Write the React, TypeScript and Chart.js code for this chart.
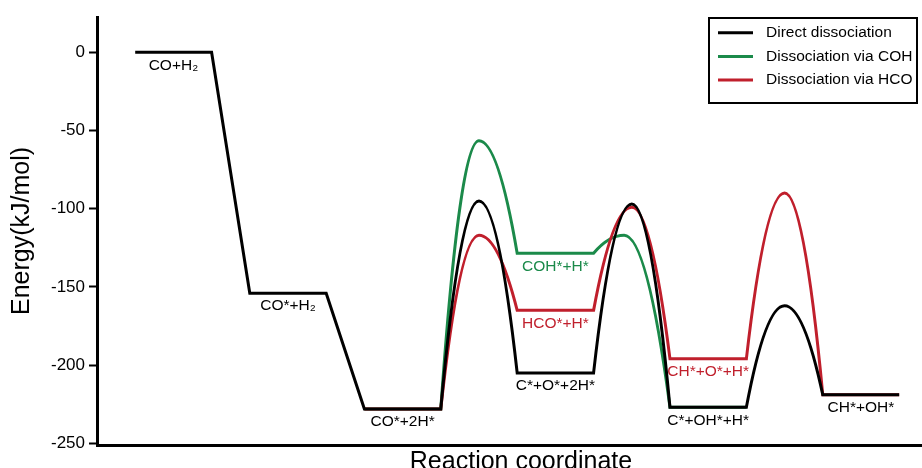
import React, { useEffect, useRef } from 'react';
import { Chart, registerables } from 'chart.js';

Chart.register(...registerables);

const FONT = '"Liberation Sans", Arial, Helvetica, sans-serif';

// Reaction-coordinate span of each intermediate slot
const slotStart = [1, 4, 7, 11, 15, 19];
const slotEnd = [3, 6, 9, 13, 17, 21];

const yTicks = [0, -50, -100, -150, -200, -250];

// Direct dissociation
const directSlots = [0, 1, 2, 3, 4, 5];
const directEnergy = [0, -154, -228, -205, -227, -219];
const directBarrier: (number | null)[] = [null, null, -95, -97, -162];
const directBarrierAt: (number | null)[] = [null, null, 10, 14, 18];
const directLabels: (string | null)[] = ['CO+H₂', 'CO*+H₂', 'CO*+2H*', 'C*+O*+2H*', 'C*+OH*+H*', 'CH*+OH*'];

// Dissociation via COH
const cohSlots = [2, 3, 4];
const cohEnergy = [-228, -128.5, -227];
const cohBarrier: (number | null)[] = [-56.5, -117];
const cohBarrierAt: (number | null)[] = [10, 13.8];
const cohLabels: (string | null)[] = [null, 'COH*+H*', null];

// Dissociation via HCO
const hcoSlots = [2, 3, 4, 5];
const hcoEnergy = [-228, -165, -196, -219];
const hcoBarrier: (number | null)[] = [-117, -99, -90];
const hcoBarrierAt: (number | null)[] = [10, 14, 18];
const hcoLabels: (string | null)[] = [null, 'HCO*+H*', 'CH*+O*+H*', null];

const seriesNames = ['Direct dissociation', 'Dissociation via COH', 'Dissociation via HCO'];
const seriesColors = ['#000000', '#1b8a4a', '#c01f2c'];

type Def = {
  name: string; color: string; slots: number[]; energy: number[];
  barrier: (number | null)[]; barrierAt: (number | null)[]; labels: (string | null)[]; order: number;
};

const defs: Def[] = [
  { name: seriesNames[0], color: seriesColors[0], slots: directSlots, energy: directEnergy, barrier: directBarrier, barrierAt: directBarrierAt, labels: directLabels, order: 0 },
  { name: seriesNames[1], color: seriesColors[1], slots: cohSlots, energy: cohEnergy, barrier: cohBarrier, barrierAt: cohBarrierAt, labels: cohLabels, order: 2 },
  { name: seriesNames[2], color: seriesColors[2], slots: hcoSlots, energy: hcoEnergy, barrier: hcoBarrier, barrierAt: hcoBarrierAt, labels: hcoLabels, order: 1 },
];

function buildPath(d: Def) {
  const pts: { x: number; y: number; peak?: boolean }[] = [];
  d.slots.forEach((s, i) => {
    const e = d.energy[i];
    pts.push({ x: slotStart[s], y: e }, { x: slotEnd[s], y: e });
    if (i < d.slots.length - 1) {
      const br = d.barrier[i];
      const at = d.barrierAt[i];
      if (br !== null && at !== null) pts.push({ x: at, y: br, peak: true });
    }
  });
  return pts;
}

// Straight levels/steps; each barrier drawn as two parabolic halves meeting at the saddle point
const barrierShape = {
  id: 'barrierShape',
  beforeDatasetDraw(chart: any, args: any) {
    const meta = args.meta;
    const line = meta.dataset;
    if (!line) return;
    line.updateControlPoints(chart.chartArea, meta.iAxis || 'x');
    const pts = meta.data;
    const raw = chart.data.datasets[args.index].data;
    pts.forEach((p: any) => {
      p.cp1x = p.x; p.cp1y = p.y; p.cp2x = p.x; p.cp2y = p.y;
    });
    raw.forEach((r: any, i: number) => {
      if (!r.peak) return;
      const a = pts[i - 1];
      const p = pts[i];
      const b = pts[i + 1];
      a.cp2x = a.x + (p.x - a.x) / 3; a.cp2y = a.y + (2 * (p.y - a.y)) / 3;
      p.cp1x = p.x - (p.x - a.x) / 3; p.cp1y = p.y;
      p.cp2x = p.x + (b.x - p.x) / 3; p.cp2y = p.y;
      b.cp1x = b.x - (b.x - p.x) / 3; b.cp1y = b.y + (2 * (p.y - b.y)) / 3;
    });
  },
};

const labelPlugin = {
  id: 'levelLabels',
  beforeDatasetsDraw(chart: any) {
    const { ctx } = chart;
    const x = chart.scales.x;
    const y = chart.scales.y;
    ctx.save();
    ctx.font = `15.5px ${FONT}`;
    ctx.textAlign = 'center';
    ctx.textBaseline = 'middle';
    defs.forEach((d) => {
      d.slots.forEach((s, i) => {
        const t = d.labels[i];
        if (!t) return;
        ctx.fillStyle = d.color;
        const cx = x.getPixelForValue((slotStart[s] + slotEnd[s]) / 2);
        const cy = y.getPixelForValue(d.energy[i]) + 13;
        ctx.fillText(t, cx, cy);
      });
    });
    ctx.restore();
  },
};

const boxLegend = {
  id: 'boxLegend',
  afterDraw(chart: any) {
    const { ctx } = chart;
    const bx = 709, by = 18, bw = 208, bh = 85;
    ctx.save();
    ctx.fillStyle = '#ffffff';
    ctx.fillRect(bx, by, bw, bh);
    ctx.strokeStyle = '#000';
    ctx.lineWidth = 2;
    ctx.strokeRect(bx, by, bw, bh);
    ctx.font = `15.5px ${FONT}`;
    ctx.textAlign = 'left';
    ctx.textBaseline = 'middle';
    chart.data.datasets.forEach((ds: any, i: number) => {
      const ry = by + 14.7 + i * 23.7;
      ctx.strokeStyle = ds.borderColor;
      ctx.lineWidth = 3;
      ctx.beginPath();
      ctx.moveTo(bx + 9, ry);
      ctx.lineTo(bx + 44, ry);
      ctx.stroke();
      ctx.fillStyle = '#000';
      ctx.fillText(ds.label, bx + 57, ry);
    });
    ctx.restore();
  },
};

export default function App() {
  const ref = useRef<HTMLCanvasElement>(null);
  useEffect(() => {
    if (!ref.current) return;
    const chart = new Chart(ref.current, {
      type: 'line',
      data: {
        datasets: defs.map((d) => ({
          label: d.name,
          data: buildPath(d),
          borderColor: d.color,
          backgroundColor: d.color,
          borderWidth: 3,
          tension: 0.4,
          pointRadius: 0,
          fill: false,
          order: d.order,
        })),
      },
      options: {
        animation: false,
        responsive: false,
        devicePixelRatio: 1,
        layout: { padding: { top: 17, right: 1, left: 0, bottom: 0 } },
        plugins: { legend: { display: false }, tooltip: { enabled: false } },
        scales: {
          x: {
            type: 'linear',
            min: 0,
            max: 22.2,
            grid: { display: false, drawTicks: false },
            ticks: { display: false },
            border: { display: true, color: '#000', width: 3 },
            title: {
              display: true,
              text: 'Reaction coordinate',
              color: '#000',
              font: { family: FONT, size: 25 },
              padding: { top: 0, bottom: 0 },
            },
            afterFit: (s: any) => {
              s.height = 32;
            },
          },
          y: {
            type: 'linear',
            min: -251.1,
            max: 22.6,
            afterBuildTicks: (s: any) => {
              s.ticks = yTicks.map((v) => ({ value: v }));
            },
            afterFit: (s: any) => {
              s.width = 97;
            },
            grid: { drawOnChartArea: false, drawTicks: true, tickLength: 8, tickColor: '#000', tickWidth: 2 },
            border: { display: true, color: '#000', width: 3 },
            ticks: { color: '#000', font: { family: FONT, size: 17 }, padding: 4 },
            title: {
              display: true,
              text: 'Energy(kJ/mol)',
              color: '#000',
              font: { family: FONT, size: 25 },
              padding: { top: 7.5, bottom: 0 },
            },
          },
        },
      },
      plugins: [labelPlugin, barrierShape, boxLegend],
    } as any);
    return () => chart.destroy();
  }, []);
  return (
    <div style={{ position: 'fixed', left: 0, top: 0, width: 922, height: 468, overflow: 'hidden', background: '#fff' }}>
      <canvas ref={ref} width={946} height={477} style={{ display: 'block', width: 946, height: 477 }} />
    </div>
  );
}
